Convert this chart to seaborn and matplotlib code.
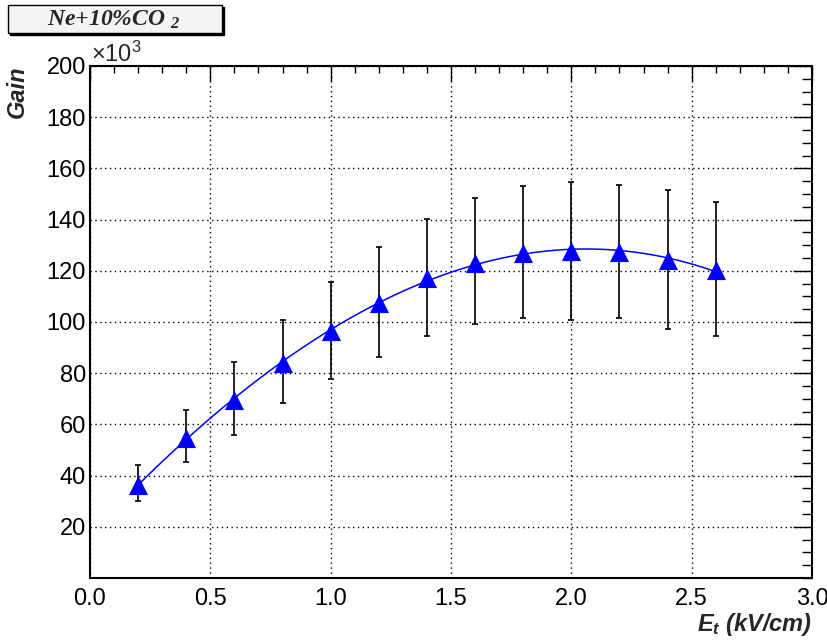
import numpy as np
import pandas as pd
import matplotlib
matplotlib.use("Agg")
import matplotlib.pyplot as plt
import seaborn as sns
from matplotlib.ticker import MultipleLocator

# Dados
campo = [0.2, 0.4, 0.6, 0.8, 1.0, 1.2, 1.4, 1.6, 1.8, 2.0, 2.2, 2.4, 2.6]
ganho = [36.5, 54.7, 69.7, 84.0, 96.4, 107.5, 117.2, 123.1, 127.0, 127.6, 127.2, 124.4, 120.5]
erro_sup = [44.2, 65.8, 84.4, 100.7, 115.7, 129.3, 140.4, 148.3, 153.2, 154.8, 153.4, 151.5, 146.8]
erro_inf = [30.0, 45.2, 56.0, 68.3, 77.9, 86.5, 94.6, 99.3, 101.5, 100.8, 101.5, 97.4, 94.7]

df = pd.DataFrame({"E": campo, "G": ganho, "sup": erro_sup, "inf": erro_inf})

# ajuste polinomial (como o fit do ROOT)
coef = np.polyfit(df["E"], df["G"], 3)
x_fit = np.linspace(min(campo), max(campo), 200)
df_fit = pd.DataFrame({"E": x_fit, "G": np.polyval(coef, x_fit)})

sns.set_theme(style="white")
plt.rcParams["font.family"] = ["Liberation Sans", "DejaVu Sans"]
plt.rcParams["mathtext.fontset"] = "custom"
plt.rcParams["mathtext.it"] = "Liberation Sans:italic:bold"
plt.rcParams["mathtext.rm"] = "Liberation Sans"
plt.rcParams["mathtext.bf"] = "Liberation Serif:italic:bold"

fig = plt.figure(figsize=(8.27, 6.44), dpi=100)
ax = fig.add_axes([90 / 827, 1 - 578 / 644, 722 / 827, 512 / 644])

yerr = [df["G"] - df["inf"], df["sup"] - df["G"]]
ax.errorbar(df["E"], df["G"], yerr=yerr, fmt="none", ecolor="black",
            elinewidth=1.2, capsize=2.5, capthick=1.2, zorder=2)
sns.lineplot(data=df_fit, x="E", y="G", ax=ax, color="blue", linewidth=1.1, zorder=3)
sns.scatterplot(data=df, x="E", y="G", ax=ax, marker="^", s=190, color="blue",
                edgecolor="blue", linewidth=0, zorder=4)

ax.set_xlim(0, 3.0)
ax.set_ylim(0, 200)
ax.xaxis.set_minor_locator(MultipleLocator(0.1))
ax.yaxis.set_minor_locator(MultipleLocator(5))
ax.set_xticks([0, 0.5, 1.0, 1.5, 2.0, 2.5, 3.0])
ax.set_xticklabels(["0.0", "0.5", "1.0", "1.5", "2.0", "2.5", "3.0"])
ax.set_yticks(list(range(20, 201, 20)))

ax.tick_params(axis="both", which="both", direction="in", top=True, right=True,
               colors="black", labelsize=17, width=1)
ax.tick_params(axis="x", which="major", length=11, pad=7)
ax.tick_params(axis="x", which="minor", length=5)
ax.tick_params(axis="y", which="major", length=14, pad=3)
ax.tick_params(axis="y", which="minor", length=7)

ax.grid(True, which="major", color="black", linestyle=(0, (1, 2.5)), linewidth=1)
for s in ax.spines.values():
    s.set_color("black")
    s.set_linewidth(1.5)

ax.set_xlabel(r"$E_t$ (kV/cm)", fontsize=17, fontweight="bold", fontstyle="italic")
ax.xaxis.set_label_coords(1.0, -0.065)
ax.xaxis.label.set_horizontalalignment("right")
ax.set_ylabel("Gain", fontsize=17, fontweight="bold", fontstyle="italic")
ax.yaxis.set_label_coords(-0.085, 1.0)
ax.yaxis.label.set_horizontalalignment("right")

fig.text(91 / 827, 1 - 67 / 644, "×10$^{3}$", fontsize=17, ha="left", va="bottom")

# caixa de título com sombra
fig.patches.append(plt.Rectangle((10 / 827, 1 - 35 / 644), 214 / 827, 28 / 644,
                                 transform=fig.transFigure, facecolor="black",
                                 edgecolor="black", zorder=1))
fig.patches.append(plt.Rectangle((8 / 827, 1 - 33 / 644), 214 / 827, 28 / 644,
                                 transform=fig.transFigure, facecolor="#f4f4f4",
                                 edgecolor="black", linewidth=1, zorder=2))
fig.text(114 / 827, 1 - 20 / 644, r"Ne+10%CO $_{\mathbf{2}}$", fontsize=17,
         family="Liberation Serif", fontweight="bold", fontstyle="italic",
         ha="center", va="center", zorder=3)

fig.savefig("out.png", dpi=100)
plt.close(fig)
